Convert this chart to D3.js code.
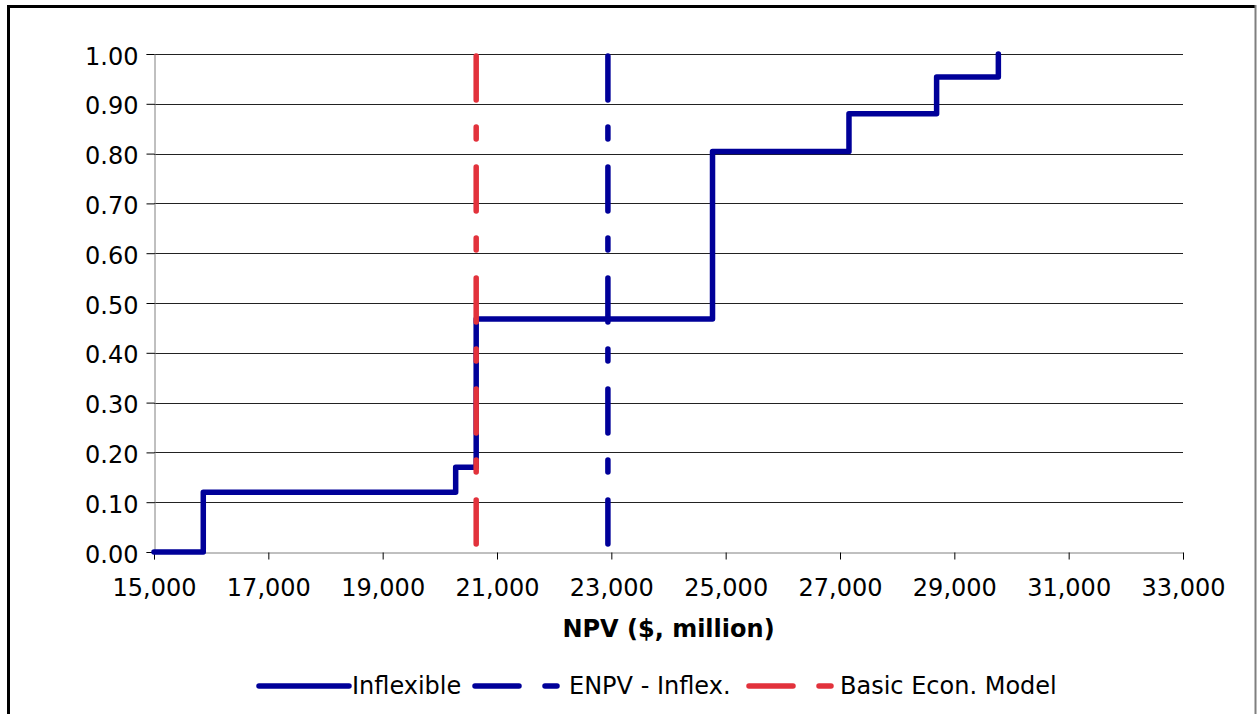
<!DOCTYPE html>
<html>
<head>
<meta charset="utf-8">
<script src="https://cdn.jsdelivr.net/npm/d3@7"></script>
<style>
  html, body { margin: 0; padding: 0; background: #fff; }
  svg { display: block; }
  text { font-family: Verdana, "DejaVu Sans", sans-serif; fill: #000; }
</style>
</head>
<body>
<svg id="chart" width="1257" height="714"></svg>
<script>
// Cumulative probability of NPV for the inflexible design (step CDF)
const npvSteps   = [15000, 15862, 20277, 20636, 24770, 27157, 28690, 29770];
const cumProb    = [0.00, 0.12, 0.17, 0.468, 0.804, 0.88, 0.954, 1.00];
// Reference values drawn as vertical markers
const enpvInflex = 22940;
const basicEcon  = 20636;
// Axis ticks
const xTicks = [15000, 17000, 19000, 21000, 23000, 25000, 27000, 29000, 31000, 33000];
const yTicks = [0, 0.1, 0.2, 0.3, 0.4, 0.5, 0.6, 0.7, 0.8, 0.9, 1.0];
// Legend entries
const seriesNames = ["Inflexible", "ENPV - Inflex.", "Basic Econ. Model"];

const BLUE = "#000099";
const RED = "#e2323c";
const DASH = "44 27 12 28";
const FONT = 24;
const LW = 5.5;

const svg = d3.select("#chart");

// Outer chart frame
svg.append("line").attr("x1", 8.5).attr("y1", 5).attr("x2", 8.5).attr("y2", 714)
  .attr("stroke", "#000").attr("stroke-width", 3);
svg.append("line").attr("x1", 7).attr("y1", 6.5).attr("x2", 1256).attr("y2", 6.5)
  .attr("stroke", "#000").attr("stroke-width", 3);
svg.append("line").attr("x1", 1255.5).attr("y1", 5).attr("x2", 1255.5).attr("y2", 714)
  .attr("stroke", "#7f7f7f").attr("stroke-width", 2);

const x = d3.scaleLinear().domain([15000, 33000]).range([154, 1183]);
const y = d3.scaleLinear().domain([0, 1]).range([552, 54]);

// Horizontal gridlines
svg.append("g").selectAll("line")
  .data(yTicks.filter(d => d > 0))
  .join("line")
  .attr("x1", x.range()[0]).attr("x2", x.range()[1])
  .attr("y1", d => Math.round(y(d)) + 0.5).attr("y2", d => Math.round(y(d)) + 0.5)
  .attr("stroke", "#222").attr("stroke-width", 1);

// Y axis
const gy = svg.append("g").attr("transform", "translate(154.5,0)")
  .call(d3.axisLeft(y).tickValues(yTicks).tickSize(8).tickPadding(8)
    .tickFormat(d3.format(".2f")));
gy.select(".domain").attr("stroke", "#808080");
gy.selectAll(".tick line").attr("stroke", "#000");
gy.selectAll(".tick text").attr("font-size", FONT).attr("dy", "0.42em")
  .style("font-family", "Verdana, 'DejaVu Sans', sans-serif");

// X axis
const gx = svg.append("g").attr("transform", "translate(0,552.5)")
  .call(d3.axisBottom(x).tickValues(xTicks).tickSize(7)
    .tickFormat(d3.format(",")));
gx.select(".domain").attr("stroke", "#808080");
gx.selectAll(".tick line").attr("stroke", "#000");
gx.selectAll(".tick text").attr("font-size", FONT).attr("y", 43.5).attr("dy", 0)
  .style("font-family", "Verdana, 'DejaVu Sans', sans-serif");

// X axis title
svg.append("text")
  .attr("x", (x.range()[0] + x.range()[1]) / 2).attr("y", 637)
  .attr("text-anchor", "middle").attr("font-size", FONT).attr("font-weight", "bold")
  .text("NPV ($, million)");

// Inflexible CDF as a step line
const pts = npvSteps.map((v, i) => [v, cumProb[i]]);
const stepLine = d3.line().x(d => x(d[0])).y(d => y(d[1])).curve(d3.curveStepAfter);
svg.append("path").datum(pts)
  .attr("d", stepLine)
  .attr("fill", "none").attr("stroke", BLUE).attr("stroke-width", LW)
  .attr("stroke-linejoin", "round").attr("stroke-linecap", "round");

// Vertical markers
function marker(val, color) {
  svg.append("path")
    .attr("d", d3.line()([[x(val), y(1) + 2], [x(val), y(0)]]))
    .attr("fill", "none").attr("stroke", color).attr("stroke-width", LW)
    .attr("stroke-dasharray", DASH).attr("stroke-linecap", "round");
}
marker(enpvInflex, BLUE);
marker(basicEcon, RED);

// Legend
const legendY = 686;
const legendItems = [
  { name: seriesNames[0], color: BLUE, dash: null, x0: 259, x1: 349, tx: 352 },
  { name: seriesNames[1], color: BLUE, dash: DASH, x0: 475, x1: 563, tx: 569 },
  { name: seriesNames[2], color: RED,  dash: DASH, x0: 749, x1: 836, tx: 840 }
];
const lg = svg.append("g").selectAll("g").data(legendItems).join("g");
lg.append("line")
  .attr("x1", d => d.x0).attr("x2", d => d.x1)
  .attr("y1", legendY).attr("y2", legendY)
  .attr("stroke", d => d.color).attr("stroke-width", LW)
  .attr("stroke-linecap", "round")
  .attr("stroke-dasharray", d => d.dash ? "44 26 12 40" : null);
lg.append("text")
  .attr("x", d => d.tx).attr("y", legendY + 8)
  .attr("font-size", FONT)
  .text(d => d.name);
</script>
</body>
</html>
